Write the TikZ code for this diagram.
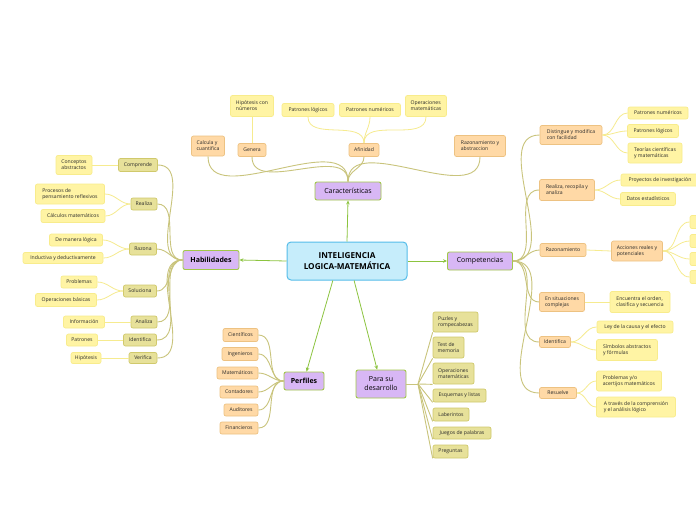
\documentclass[tikz,border=0pt]{standalone}
\usepackage{fontspec}
\setmainfont{Open Sans}
\usetikzlibrary{arrows.meta}
\definecolor{cenfill}{HTML}{C6EDFB}
\definecolor{cendraw}{HTML}{55BDE9}
\definecolor{purfill}{HTML}{D8B7F5}
\definecolor{purdraw}{HTML}{A2C84A}
\definecolor{orgfill}{HTML}{FFD9A6}
\definecolor{orgdraw}{HTML}{EDC282}
\definecolor{olvfill}{HTML}{E7E19A}
\definecolor{olvdraw}{HTML}{D0C96C}
\definecolor{yelfill}{HTML}{FFF4A4}
\definecolor{yeldraw}{HTML}{F8EC8C}
\definecolor{arrgreen}{HTML}{8CC43F}
\definecolor{olvline}{HTML}{C9C47C}
\definecolor{yelline}{HTML}{F6EB8F}
\definecolor{txt}{HTML}{2A2A2A}
\tikzset{
  basebox/.style={rounded corners=2pt, line width=0.7pt, inner sep=1pt, align=left, text=txt, font=\fontsize{5.1}{6}\selectfont},
  cen/.style={basebox, draw=cendraw, fill=cenfill, line width=1pt, rounded corners=4pt, align=center, text=black, font=\fontsize{8.2}{10.5}\selectfont\bfseries},
  pur/.style={basebox, draw=purdraw, fill=purfill, line width=0.9pt, align=center, text=black, font=\fontsize{7}{9}\selectfont},
  org/.style={basebox, draw=orgdraw, fill=orgfill},
  olv/.style={basebox, draw=olvdraw, fill=olvfill},
  yel/.style={basebox, draw=yeldraw, fill=yelfill},
  arr/.style={draw=arrgreen, line width=0.8pt, -{Stealth[length=4pt,width=3.5pt]}},
  oline/.style={draw=olvline, line width=0.9pt},
  yline/.style={draw=yelline, line width=0.8pt},
}
\newcommand\bx[7]{\node[#1, minimum width=#5, minimum height=#6] (#2) at (#3,#4) {#7};}
\begin{document}
\begin{tikzpicture}[x=1pt,y=-1pt]
\useasboundingbox (0,0) rectangle (696,520);
\clip (0,0) rectangle (696,520);
\fill[white] (0,0) rectangle (696,520);

% ---------- nodes ----------
\bx{cen}{c}{347}{261}{120}{38}{INTELIGENCIA\\LOGICA-MATEMÁTICA}
\bx{pur}{car}{348}{191}{66}{18}{Características}
\bx{pur}{hab}{211}{260}{56}{19}{\bfseries Habilidades}
\bx{pur}{com}{480}{261}{65}{18}{Competencias}
\bx{pur}{per}{304}{381}{40}{18}{\bfseries Perfiles}
\bx{pur}{pde}{381}{384}{50}{28}{Para su\\desarrollo}

% Caracteristicas
\bx{org}{calc}{208}{146}{33}{20}{Calcula y\\cuantifica}
\bx{org}{gen}{252}{150}{28}{13}{Genera}
\bx{org}{afi}{364}{150}{30}{13}{Afinidad}
\bx{org}{raz}{480}{146}{51}{21}{Razonamiento y\\abstraccion}
\bx{yel}{hip}{252}{106}{43}{21}{Hipótesis con\\números}
\bx{yel}{plog}{308}{110}{52}{13}{Patrones lógicos}
\bx{yel}{pnum}{370}{110}{61}{13}{Patrones numéricos}
\bx{yel}{opm}{426}{106}{41}{21}{Operaciones\\matemáticas}

% Habilidades
\bx{olv}{comp}{138}{165}{39}{13}{Comprende}
\bx{olv}{real}{144}{204}{26}{12}{Realiza}
\bx{olv}{razo}{143}{249}{27}{12}{Razona}
\bx{olv}{sol}{140}{291}{33}{12}{Soluciona}
\bx{olv}{ana}{144}{322}{26}{12}{Analiza}
\bx{olv}{ide}{140}{340}{33}{12}{Identifica}
\bx{olv}{ver}{143}{358}{28}{11}{Verifica}
\bx{yel}{cab}{74}{165}{36}{19}{Conceptos\\abstractos}
\bx{yel}{ppr}{70}{194}{69}{20}{Procesos de\\pensamiento reflexivos}
\bx{yel}{cma}{73}{216}{64}{13}{Cálculos matemáticos}
\bx{yel}{dml}{76}{240}{53}{12}{De manera lógica}
\bx{yel}{idd}{63}{258}{80}{11}{Inductiva y deductivamente}
\bx{yel}{prob}{79}{282}{36}{12}{Problemas}
\bx{yel}{opb}{66}{300}{61}{13}{Operaciones básicas}
\bx{yel}{inf}{84}{322}{41}{12}{Información}
\bx{yel}{pat}{82}{340}{31}{12}{Patrones}
\bx{yel}{hipo}{86}{358}{30}{11}{Hipótesis}

% Competencias
\bx{org}{dis}{571}{135}{62}{19}{Distingue y modifica\\con facilidad}
\bx{org}{rra}{567}{190}{55}{21}{Realiza, recopila y\\analiza}
\bx{org}{rzn}{563}{250}{46}{13}{Razonamiento}
\bx{org}{esc}{562}{302}{45}{19}{En situaciones\\complejas}
\bx{org}{idf}{555}{342}{31}{11}{Identifica}
\bx{org}{res}{558}{393}{37}{11}{Resuelve}
\bx{yel}{cpn}{658}{113}{60}{12}{Patrones numéricos}
\bx{yel}{cpl}{653}{131}{51}{13}{Patrones lógicos}
\bx{yel}{tcm}{655}{153}{54}{20}{Teorías científicas\\y matemáticas}
\bx{yel}{pin}{660}{180}{78}{12}{Proyectos de investigación}
\bx{yel}{dae}{648}{199}{55}{13}{Datos estadísticos}
\bx{org}{acc}{637}{251}{51}{20}{Acciones reales y\\potenciales}
\bx{yel}{k1}{702}{222}{24}{13}{}
\bx{yel}{k2}{702}{241}{24}{13}{}
\bx{yel}{k3}{702}{259}{24}{13}{}
\bx{yel}{k4}{702}{277}{24}{13}{}
\bx{yel}{eoc}{640}{302}{60}{21}{Encuentra el orden,\\clasifica y secuencia}
\bx{yel}{lce}{635}{327}{76}{12}{Ley de la causa y el efecto}
\bx{yel}{saf}{627}{350}{61}{21}{Símbolos abstractos\\y fórmulas}
\bx{yel}{pac}{629}{381}{65}{20}{Problemas y/o\\acertijos matemáticos}
\bx{yel}{atc}{636}{407}{79}{20}{A través de la comprensión\\y el análisis lógico}

% Perfiles
\bx{org}{p1}{240.5}{335}{35}{13}{Científicos}
\bx{org}{p2}{240}{354}{36}{13}{Ingenieros}
\bx{org}{p3}{237.5}{373}{41}{12}{Matemáticos}
\bx{org}{p4}{239}{392}{38}{12}{Contadores}
\bx{org}{p5}{241}{410}{34}{12}{Auditores}
\bx{org}{p6}{239}{428}{38}{12}{Financieros}

% Para su desarrollo
\bx{olv}{d1}{455.5}{322}{45}{20}{Puzles y\\rompecabezas}
\bx{olv}{d2}{448.5}{347.5}{31}{21}{Test de\\memoria}
\bx{olv}{d3}{453.5}{373.5}{41}{21}{Operaciones\\matemáticas}
\bx{olv}{d4}{459.5}{395.5}{53}{13}{Esquemas y listas}
\bx{olv}{d5}{451}{414.5}{36}{13}{Laberintos}
\bx{olv}{d6}{462}{433}{58}{12}{Juegos de palabras}
\bx{olv}{d7}{450.5}{451.5}{35}{13}{Preguntas}

% ---------- connectors ----------
\draw[arr] (c.north) -- (car.south);
\draw[arr] (c.west) -- (hab.east);
\draw[arr] (c.east) -- (com.west);
\draw[arr] (c.234) -- (per.75);
\draw[arr] (c.290) -- (pde.105);

\foreach \n in {calc,gen,afi,raz} \draw[oline] (car.north) to[out=90,in=-90] (\n.south);
\draw[yline] (gen.north) -- (hip.south);
\foreach \n in {plog,pnum,opm} \draw[yline] (afi.north) to[out=90,in=-90] (\n.south);

\foreach \n in {comp,real,razo,sol,ana,ide,ver} \draw[oline] (hab.west) to[out=180,in=0] (\n.east);
\draw[yline] (comp.west) -- (cab.east);
\draw[yline] (real.west) to[out=180,in=0] (ppr.east);
\draw[yline] (real.west) to[out=180,in=0] (cma.east);
\draw[yline] (razo.west) to[out=180,in=0] (dml.east);
\draw[yline] (razo.west) to[out=180,in=0] (idd.east);
\draw[yline] (sol.west) to[out=180,in=0] (prob.east);
\draw[yline] (sol.west) to[out=180,in=0] (opb.east);
\draw[yline] (ana.west) -- (inf.east);
\draw[yline] (ide.west) -- (pat.east);
\draw[yline] (ver.west) -- (hipo.east);

\foreach \n in {dis,rra,rzn,esc,idf,res} \draw[oline] (com.east) to[out=0,in=180] (\n.west);
\foreach \n in {cpn,cpl,tcm} \draw[yline] (dis.east) to[out=0,in=180] (\n.west);
\foreach \n in {pin,dae} \draw[yline] (rra.east) to[out=0,in=180] (\n.west);
\draw[yline] (rzn.east) -- (acc.west);
\foreach \n in {k1,k2,k3,k4} \draw[yline] (acc.east) to[out=0,in=180] (\n.west);
\draw[yline] (esc.east) -- (eoc.west);
\foreach \n in {lce,saf} \draw[yline] (idf.east) to[out=0,in=180] (\n.west);
\foreach \n in {pac,atc} \draw[yline] (res.east) to[out=0,in=180] (\n.west);

\foreach \n in {p1,p2,p3,p4,p5,p6} \draw[oline] (per.west) to[out=180,in=0] (\n.east);

\coordinate (pj) at (418,384);
\draw[oline] (pde.east) -- (pj);
\foreach \n in {d1,d2,d3,d4,d5,d6,d7} \draw[oline] (pj) -- (\n.south west);
\end{tikzpicture}
\end{document}
